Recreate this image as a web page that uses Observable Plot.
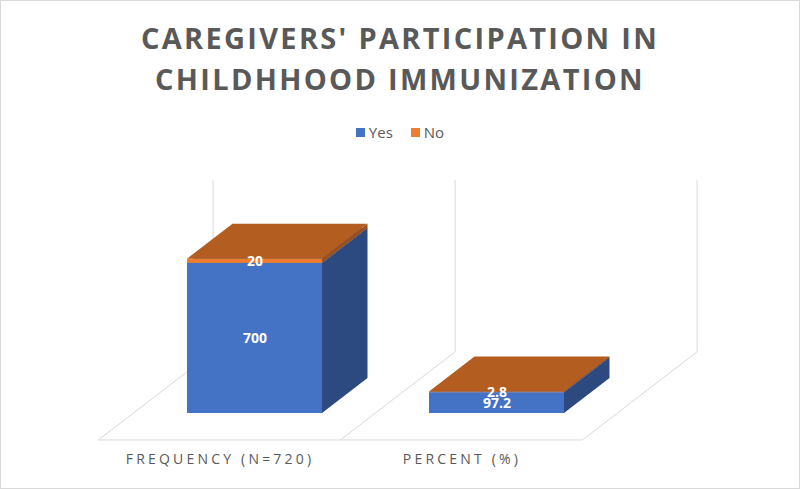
<!DOCTYPE html>
<html>
<head>
<meta charset="utf-8">
<script src="https://cdn.jsdelivr.net/npm/d3@7"></script>
<script src="https://cdn.jsdelivr.net/npm/@observablehq/plot@0.6"></script>
<style>
  html, body { margin: 0; padding: 0; background: #fff; }
  #frame { position: relative; width: 800px; height: 489px; overflow: hidden; background: #fff;
           font-family: "Open Sans", sans-serif; color: #595959; }
  #border { position: absolute; left: 0; top: 0; width: 800px; height: 489px; box-sizing: border-box;
            border: 1px solid #d9d9d9; pointer-events: none; }
  #title { position: absolute; left: 0; top: 17px; width: 800px; text-align: center; font-weight: 700;
           font-size: 29px; line-height: 41px; letter-spacing: 2.3px; color: #595959; white-space: nowrap; }
  #legend { position: absolute; left: 0; top: 122px; width: 800px; display: flex; justify-content: center;
            align-items: center; font-size: 15px; color: #595959; gap: 18px; }
  #legend .item { display: flex; align-items: center; }
  #legend .sw { width: 9px; height: 9px; margin-right: 4px; }
  #chart { position: absolute; left: 0; top: 149px; }
  #chart g[aria-label="x-axis tick label"] text { letter-spacing: 3.2px; }
</style>
</head>
<body>
<div id="frame">
  <div id="title">CAREGIVERS' PARTICIPATION IN<br>CHILDHHOOD IMMUNIZATION</div>
  <div id="legend"></div>
  <div id="chart"></div>
  <div id="border"></div>
</div>
<script>
// ---- data ----
const categories = ["FREQUENCY (N=720)", "PERCENT (%)"];
const seriesNames = ["Yes", "No"];
const yesValues = [700, 97.2];
const noValues = [20, 2.8];
const seriesColors = ["#4472C4", "#ED7D31"];
const yDomain = [0, 800];

// ---- styling constants (pixels) ----
const DX = 45.5, DY = -35;            // depth vector of a column
const T_FRONT = -0.77, T_BACK = 1.75; // floor extent in depth units
const shade = {
  "#4472c4": {side: "#2c4a80", top: "#335693"},
  "#ed7d31": {side: "#9a5120", top: "#b35d20"}
};

const rows = [];
categories.forEach((c, i) => {
  rows.push({cat: c, series: "Yes", value: yesValues[i]});
  rows.push({cat: c, series: "No", value: noValues[i]});
});

// legend
const legend = d3.select("#legend");
seriesNames.forEach((s, i) => {
  const it = legend.append("div").attr("class", "item");
  it.append("div").attr("class", "sw").style("background", seriesColors[i]);
  it.append("span").text(s);
});

function pts(a) { return "M" + a.map(p => p[0] + "," + p[1]).join("L") + "Z"; }

// floor and back walls, from the band scale
function floorAndWalls(index, scales) {
  const x = scales.x, y = scales.y;
  const step = x.step(), bw = x.bandwidth(), gap = step - bw;
  const edges = categories.map(c => x(c) - gap / 2);
  edges.push(x(categories[categories.length - 1]) + bw + gap / 2);
  const y0 = y(yDomain[0]), yT = y(yDomain[1]);
  const g = d3.create("svg:g").attr("fill", "none").attr("stroke", "#d9d9d9").attr("stroke-width", 1);
  let d = `M${edges[0] + T_FRONT * DX},${y0 + T_FRONT * DY}L${edges[edges.length - 1] + T_FRONT * DX},${y0 + T_FRONT * DY}`;
  for (const e of edges) {
    d += `M${e + T_FRONT * DX},${y0 + T_FRONT * DY}L${e + T_BACK * DX},${y0 + T_BACK * DY}L${e + T_BACK * DX},${yT + T_BACK * DY}`;
  }
  g.append("path").attr("d", d);
  return g.node();
}

// extrude the front rects into 3D boxes
function extrude(index, scales, values, dims, ctx, next) {
  const g = next(index, scales, values, dims, ctx);
  const rects = Array.from(g.querySelectorAll("rect"));
  const items = rects.map(r => ({
    r, x: +r.getAttribute("x"), y: +r.getAttribute("y"),
    w: +r.getAttribute("width"), h: +r.getAttribute("height"),
    fill: d3.color(r.getAttribute("fill")).formatHex()
  }));
  items.sort((a, b) => (a.x - b.x) || ((b.y + b.h) - (a.y + a.h)));
  for (const it of items) {
    const s = shade[it.fill] || {side: it.fill, top: it.fill};
    const {x, y, w, h} = it;
    const side = document.createElementNS("http://www.w3.org/2000/svg", "path");
    side.setAttribute("d", pts([[x + w, y], [x + w + DX, y + DY], [x + w + DX, y + h + DY], [x + w, y + h]]));
    side.setAttribute("fill", s.side);
    const top = document.createElementNS("http://www.w3.org/2000/svg", "path");
    top.setAttribute("d", pts([[x, y], [x + w, y], [x + w + DX, y + DY], [x + DX, y + DY]]));
    top.setAttribute("fill", s.top);
    g.appendChild(side);
    g.appendChild(top);
    g.appendChild(it.r);
  }
  return g;
}

const chart = Plot.plot({
  width: 800,
  height: 340,
  marginTop: 92.5,
  marginBottom: 76,
  marginLeft: 133,
  marginRight: 182,
  style: {background: "transparent", color: "#595959", overflow: "visible"},
  x: {domain: categories, paddingInner: 0.442, paddingOuter: 0.221, axis: null, label: null},
  y: {domain: yDomain, axis: null},
  color: {domain: seriesNames, range: seriesColors},
  marks: [
    floorAndWalls,
    Plot.barY(rows, Plot.stackY({x: "cat", y: "value", fill: "series", render: extrude})),
    Plot.text(rows, Plot.stackY({
      x: "cat", y: "value", text: d => String(d.value),
      fill: "white", fontWeight: "bold", fontSize: 14, fontFamily: "Open Sans"
    })),
    Plot.axisX({tickSize: 0, tickPadding: 41, dx: -35, fontSize: 14, fontFamily: "Open Sans",
                fill: "#595959", label: null})
  ]
});
document.getElementById("chart").appendChild(chart);
</script>
</body>
</html>
